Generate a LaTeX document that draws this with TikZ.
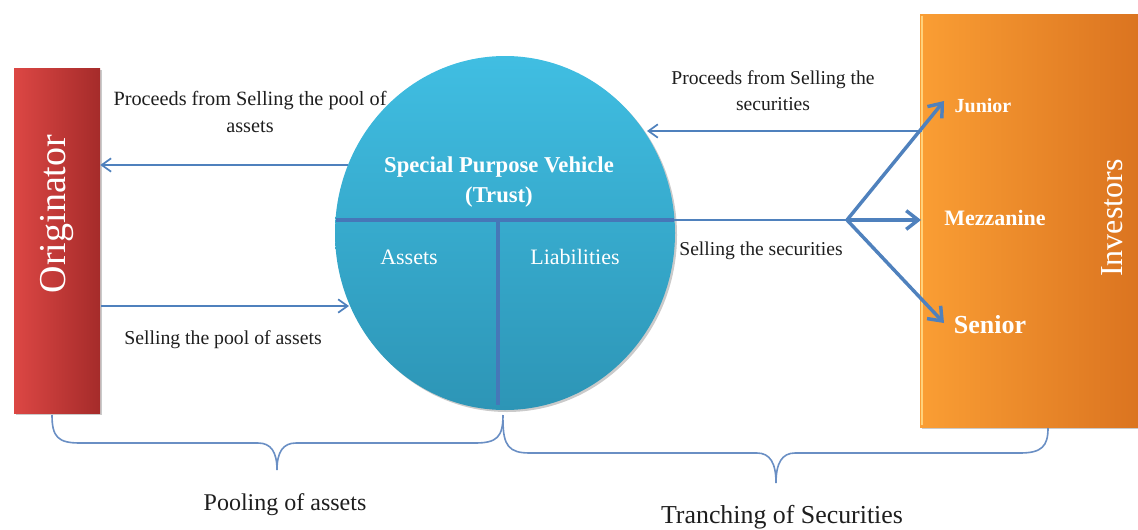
\documentclass[tikz,border=0pt]{standalone}
\usepackage{fontspec}
\setmainfont{Liberation Serif}
\usetikzlibrary{arrows.meta,shapes.geometric,shadows,calc}
\definecolor{lineblue}{HTML}{4F81BD}
\definecolor{innerblue}{HTML}{4677B8}
\definecolor{braceblue}{HTML}{6A8FC4}
\definecolor{redL}{HTML}{DC4744}
\definecolor{redR}{HTML}{A52B2A}
\definecolor{cyanT}{HTML}{40BEE2}
\definecolor{cyanB}{HTML}{2D95B6}
\definecolor{orL}{HTML}{FA9E34}
\definecolor{orR}{HTML}{DB7420}
\definecolor{glow}{HTML}{FFD27A}
\definecolor{txt}{HTML}{1E1E1E}
\tikzset{
  conn/.style={draw=lineblue, line width=1.3pt, -{Straight Barb[length=7pt,width=10pt,line width=1.3pt]}},
  plainline/.style={draw=lineblue, line width=1.3pt},
  innerline/.style={draw=innerblue, line width=2.6pt},
  tranche/.style={draw=lineblue, line width=2.6pt, -{Straight Barb[length=9pt,width=14pt,line width=2.6pt]}},
  bracestyle/.style={draw=braceblue, line width=1.2pt},
  lbl/.style={text=txt, align=center, inner sep=0pt},
  white label/.style={text=white, inner sep=0pt, font=\bfseries},
  shadowed/.style={drop shadow={shadow xshift=1.5pt, shadow yshift=-1.5pt, opacity=0.35, fill=black!60}}
}
\begin{document}
\begin{tikzpicture}[x=0.75pt,y=-0.75pt]
\useasboundingbox (0,0) rectangle (1138,529);

% Originator box
\node[shadowed, draw=none, left color=redL, right color=redR, minimum width=64.5pt, minimum height=258.75pt, inner sep=0pt] (orig) at (57,240.5) {};
\node[text=white, rotate=90, inner sep=0pt, font=\fontsize{28.5}{30}\selectfont] (origt) at (57,214) {Originator};

% Investors box
\node[shadowed, draw=none, left color=orL, right color=orR, minimum width=163.5pt, minimum height=309.75pt, inner sep=0pt] (inv) at (1029,220.5) {};
\draw[draw=glow, line width=1.6pt] ($(inv.north west)+(2,2)$) coordinate (hl1) -- ($(inv.south west)+(2,-2)$) coordinate (hl2);
\node[text=white, rotate=90, inner sep=0pt, font=\fontsize{24}{26}\selectfont] (invt) at (1112,218) {Investors};
\node[white label, font=\bfseries\fontsize{15}{16}\selectfont] (junior) at (983,106) {Junior};
\node[white label, font=\bfseries\fontsize{16.5}{18}\selectfont] (mezz) at (995,218) {Mezzanine};
\node[white label, font=\bfseries\fontsize{19.5}{21}\selectfont] (senior) at (990,325) {Senior};

% SPV ellipse
\node[shadowed, ellipse, draw=none, top color=cyanT, bottom color=cyanB, minimum width=255pt, minimum height=265.5pt, inner sep=0pt] (spv) at (505,233) {};
\coordinate (hL) at (336,220);
\coordinate (hR) at (674,220);
\coordinate (vT) at (498,220);
\coordinate (vB) at (498,405);
\draw[innerline] (hL) -- (hR);
\draw[innerline] (vT) -- (vB);
\node[text=white, align=center, inner sep=0pt, font=\bfseries\fontsize{17}{22.5}\selectfont] (spvt) at (499,182) {Special Purpose Vehicle\\(Trust)};
\node[text=white, inner sep=0pt, font=\fontsize{16.5}{18}\selectfont] (assets) at (409,257) {Assets};
\node[text=white, inner sep=0pt, font=\fontsize{16.5}{18}\selectfont] (liab) at (575,257) {Liabilities};

% Connectors
\coordinate (c1) at (348,165);
\draw[conn] (c1) -- (orig.east |- c1);
\coordinate (c2) at (101,306);
\coordinate (c2e) at (349,306);
\draw[conn] (c2) -- (c2e);
\coordinate (c3) at (922,131);
\coordinate (c3e) at (647,131);
\draw[conn] (c3) -- (c3e);
\coordinate (br) at (847,220);
\draw[plainline] (hR) -- (br);
\coordinate (tJ) at (944,101);
\coordinate (tM) at (921,220);
\coordinate (tS) at (944,323);
\draw[tranche] (br) -- (tJ);
\draw[tranche] (br) -- (tM);
\draw[tranche] (br) -- (tS);

% Labels
\node[lbl, font=\fontsize{15.2}{20}\selectfont] (l1) at (250,112) {Proceeds from Selling the pool of\\assets};
\node[lbl, font=\fontsize{14.7}{19.5}\selectfont] (l2) at (773,91) {Proceeds from Selling the\\securities};
\node[lbl, font=\fontsize{14.7}{16}\selectfont] (l3) at (761,251) {Selling the securities};
\node[lbl, font=\fontsize{14.8}{16}\selectfont] (l4) at (223,340) {Selling the pool of assets};

% Braces
\draw[bracestyle] (52,415) .. controls (52,437) and (58,443) .. (80,443) -- (258,443)
  .. controls (271,443) and (277,452) .. (277,470)
  .. controls (277,452) and (283,443) .. (296,443) -- (475,443)
  .. controls (497,443) and (503,437) .. (503,415);
\draw[bracestyle] (503,420) .. controls (503,446) and (509,453) .. (530,453) -- (757,453)
  .. controls (770,453) and (776,463) .. (776,483)
  .. controls (776,463) and (782,453) .. (795,453) -- (1020,453)
  .. controls (1042,453) and (1048,446) .. (1048,428);

\node[lbl, font=\fontsize{18}{20}\selectfont] (pool) at (285,505) {Pooling of assets};
\node[lbl, font=\fontsize{19.4}{21}\selectfont] (tranch) at (782,517) {Tranching of Securities};
\end{tikzpicture}
\end{document}
